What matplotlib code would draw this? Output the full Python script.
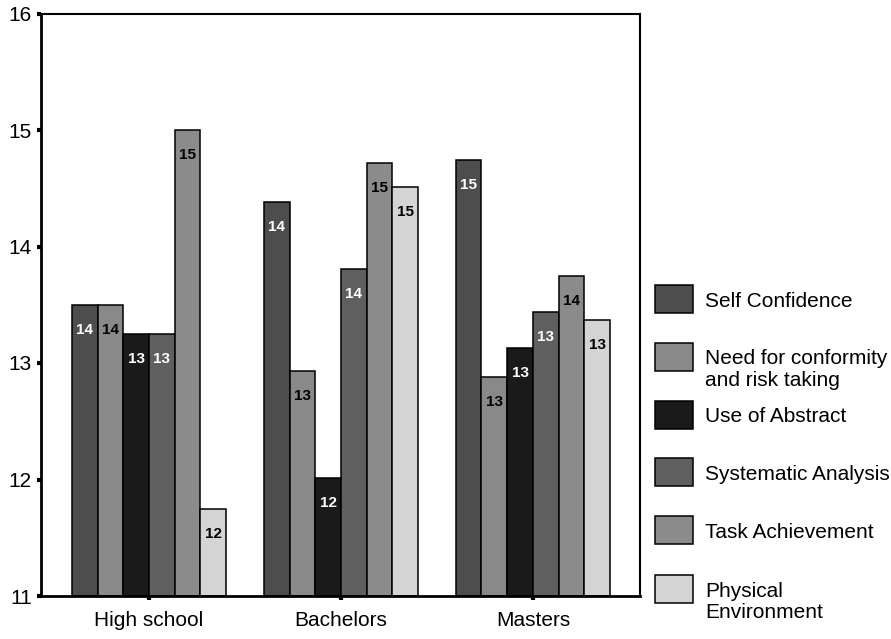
import matplotlib.pyplot as plt
import numpy as np
from matplotlib.patches import Rectangle

plt.rcParams['font.family'] = ['Liberation Sans', 'DejaVu Sans']

# 교육 수준별 평균 점수
groups = ['High school', 'Bachelors', 'Masters']
series = ['Self Confidence', 'Need for conformity\nand risk taking', 'Use of Abstract',
          'Systematic Analysis', 'Task Achievement', 'Physical\nEnvironment']
self_confidence = [13.5, 14.38, 14.74]
conformity = [13.5, 12.93, 12.88]
use_abstract = [13.25, 12.01, 13.13]
systematic = [13.25, 13.81, 13.44]
task_achievement = [15.0, 14.72, 13.75]
physical_env = [11.75, 14.51, 13.37]
values = [self_confidence, conformity, use_abstract, systematic, task_achievement, physical_env]

colors = ['#4d4d4d', '#898989', '#1a1a1a', '#5f5f5f', '#8b8b8b', '#d4d4d4']
text_colors = ['white', 'black', 'white', 'white', 'black', 'black']

fig = plt.figure(figsize=(8.91, 6.39), dpi=100)
ax = fig.add_axes([41 / 891, 1 - 596 / 639, (639.5 - 41) / 891, (596 - 13.5) / 639])

x = np.arange(len(groups))
w = 0.134
for i, (vals, c) in enumerate(zip(values, colors)):
    pos = x + (i - 2.5) * w
    ax.bar(pos, np.array(vals) - 11, w, bottom=11, color=c, edgecolor='black', linewidth=1.1, zorder=2)
    for j, v in enumerate(vals):
        ax.annotate(f"{int(v + 0.5)}", (pos[j], v), xytext=(0, -18), textcoords='offset points',
                    ha='center', va='center', fontsize=11, fontweight='bold', color=text_colors[i])

ax.set_ylim(11, 16)
ax.set_xlim(-0.5625, 2.555)
ax.set_yticks([11, 12, 13, 14, 15, 16])
ax.set_xticks(x)
ax.set_xticklabels(groups)
ax.tick_params(axis='both', direction='out', length=3, width=3, labelsize=15)
ax.tick_params(axis='y', pad=3.5)
ax.tick_params(axis='x', pad=8)
for s in ['left', 'bottom']:
    ax.spines[s].set_linewidth(2)
for s in ['top', 'right']:
    ax.spines[s].set_linewidth(1.5)

# 범례 (수동 배치)
ys = [299, 356.5, 414.5, 472, 530, 589]
for lab, c, yc in zip(series, colors, ys):
    fig.add_artist(Rectangle((655 / 891, 1 - (yc + 14) / 639), 38 / 891, 28 / 639,
                             facecolor=c, edgecolor='black', linewidth=1.1, transform=fig.transFigure))
    for k, line in enumerate(lab.split('\n')):
        fig.text(705 / 891, 1 - (yc + 8 + 21 * k) / 639, line, ha='left', va='baseline', fontsize=15)

plt.savefig('out.png', dpi=100)
